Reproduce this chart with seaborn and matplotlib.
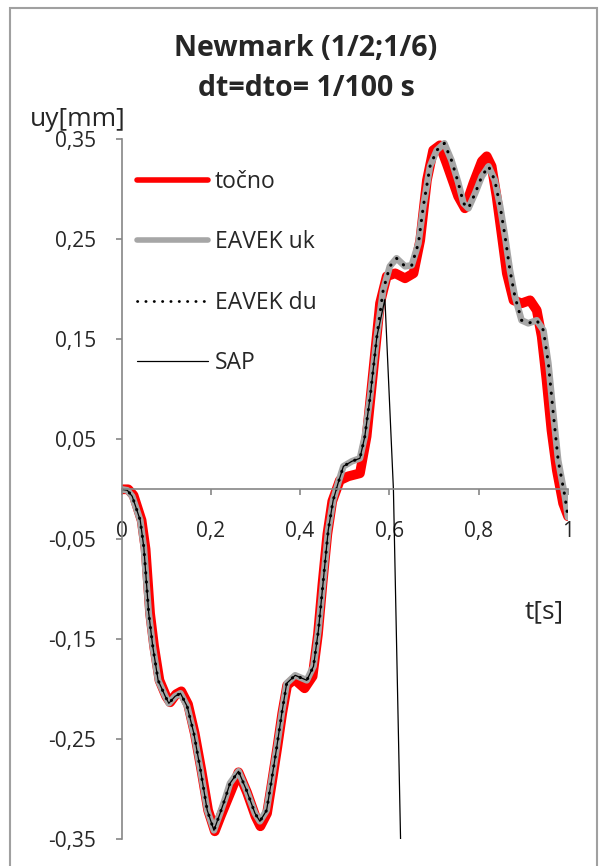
import numpy as np
import pandas as pd
import matplotlib
matplotlib.use('Agg')
import matplotlib.pyplot as plt
from matplotlib.lines import Line2D
from matplotlib.patches import Rectangle
import seaborn as sns

# točno (exact solution)
t_tocno = [0.000, 0.015, 0.027, 0.045, 0.054, 0.064, 0.073, 0.085, 0.100, 0.109,
           0.122, 0.134, 0.149, 0.164, 0.179, 0.194, 0.209, 0.222, 0.245, 0.262,
           0.281, 0.300, 0.311, 0.326, 0.337, 0.349, 0.360, 0.371, 0.387, 0.410,
           0.428, 0.440, 0.450, 0.461, 0.472, 0.489, 0.508, 0.534, 0.549, 0.564,
           0.579, 0.594, 0.613, 0.635, 0.654, 0.669, 0.684, 0.698, 0.713, 0.728,
           0.754, 0.769, 0.788, 0.807, 0.818, 0.829, 0.840, 0.852, 0.863, 0.878,
           0.896, 0.915, 0.930, 0.941, 0.952, 0.963, 0.975, 0.989, 1.000]
u_tocno = [0.000, 0.000, -0.006, -0.031, -0.060, -0.124, -0.157, -0.191, -0.207, -0.213,
           -0.205, -0.202, -0.215, -0.244, -0.281, -0.321, -0.342, -0.327, -0.302, -0.283,
           -0.303, -0.327, -0.337, -0.324, -0.293, -0.258, -0.224, -0.196, -0.190, -0.199,
           -0.187, -0.145, -0.095, -0.045, -0.012, 0.009, 0.013, 0.016, 0.053, 0.119,
           0.186, 0.213, 0.216, 0.211, 0.216, 0.249, 0.309, 0.339, 0.344, 0.326,
           0.293, 0.281, 0.306, 0.328, 0.333, 0.323, 0.293, 0.253, 0.216, 0.189,
           0.186, 0.189, 0.179, 0.153, 0.109, 0.059, 0.019, -0.014, -0.027]

# EAVEK (uk and du give the same curve)
t_eavek = [0.000, 0.013, 0.024, 0.042, 0.050, 0.061, 0.070, 0.082, 0.098, 0.106,
           0.120, 0.132, 0.147, 0.162, 0.177, 0.192, 0.207, 0.220, 0.233, 0.243,
           0.262, 0.280, 0.299, 0.310, 0.325, 0.336, 0.348, 0.359, 0.370, 0.389,
           0.415, 0.430, 0.441, 0.452, 0.463, 0.474, 0.485, 0.497, 0.516, 0.534,
           0.545, 0.557, 0.572, 0.586, 0.601, 0.616, 0.635, 0.650, 0.665, 0.676,
           0.691, 0.706, 0.723, 0.739, 0.754, 0.766, 0.777, 0.792, 0.807, 0.822,
           0.836, 0.848, 0.859, 0.870, 0.881, 0.896, 0.911, 0.930, 0.945, 0.956,
           0.967, 0.978, 0.993, 1.000]
u_eavek = [0.000, -0.001, -0.007, -0.031, -0.058, -0.124, -0.157, -0.191, -0.207, -0.214,
           -0.207, -0.204, -0.217, -0.244, -0.281, -0.321, -0.341, -0.325, -0.308, -0.294,
           -0.282, -0.301, -0.324, -0.332, -0.321, -0.291, -0.257, -0.224, -0.194, -0.186,
           -0.191, -0.177, -0.141, -0.091, -0.041, -0.011, 0.006, 0.023, 0.028, 0.031,
           0.053, 0.093, 0.153, 0.199, 0.223, 0.231, 0.223, 0.224, 0.246, 0.283,
           0.323, 0.339, 0.346, 0.329, 0.307, 0.286, 0.281, 0.296, 0.313, 0.323,
           0.309, 0.283, 0.253, 0.219, 0.193, 0.169, 0.166, 0.169, 0.159, 0.126,
           0.076, 0.029, -0.007, -0.028]

# SAP: same as EAVEK until ~0.59 s, then diverges
t_sap = t_eavek[:43] + [0.590, 0.609, 0.625, 0.627]
u_sap = u_eavek[:43] + [0.190, 0.000, -0.350, -0.400]

yticks = [0.35, 0.25, 0.15, 0.05, -0.05, -0.15, -0.25, -0.35]
ytick_labels = ['0,35', '0,25', '0,15', '0,05', '-0,05', '-0,15', '-0,25', '-0,35']
xticks = [0, 0.2, 0.4, 0.6, 0.8, 1]
xtick_labels = ['0', '0,2', '0,4', '0,6', '0,8', '1']

sns.set_style('white')
plt.rcParams['font.family'] = ['Open Sans', 'DejaVu Sans']
axis_gray = '#868686'
fs = 15

fig = plt.figure(figsize=(6.02, 8.66), dpi=100)
ax = fig.add_axes([121.5 / 602, 1 - 839.3 / 866, 446.5 / 602, 700 / 866])

sns.lineplot(x=t_tocno, y=u_tocno, ax=ax, color='#ff0000', lw=7.0, sort=False,
             estimator=None, legend=False, solid_joinstyle='round')
sns.lineplot(x=t_eavek, y=u_eavek, ax=ax, color='#a6a6a6', lw=4.8, sort=False,
             estimator=None, legend=False, solid_joinstyle='round')
sns.lineplot(x=t_eavek, y=u_eavek, ax=ax, color='black', lw=2.2, sort=False,
             estimator=None, legend=False, linestyle=(0, (0.1, 2.9)),
             dash_capstyle='round')
sns.lineplot(x=t_sap, y=u_sap, ax=ax, color='black', lw=0.9, sort=False,
             estimator=None, legend=False)

ax.set_xlim(0, 1)
ax.set_ylim(-0.35, 0.35)
ax.set_xlabel('')
ax.set_ylabel('')

for s in ['top', 'right']:
    ax.spines[s].set_visible(False)
ax.spines['bottom'].set_position(('data', 0))
for s in ['left', 'bottom']:
    ax.spines[s].set_color(axis_gray)
    ax.spines[s].set_linewidth(1.2)

ax.set_yticks(yticks)
ax.set_yticklabels(ytick_labels)
ax.set_xticks(xticks)
ax.set_xticklabels(xtick_labels)
ax.tick_params(axis='y', direction='out', length=4.5, width=1.2, color=axis_gray,
               labelsize=fs, pad=14, left=True)
ax.tick_params(axis='x', direction='out', length=4.5, width=1.2, color=axis_gray,
               labelsize=fs, pad=18, bottom=True)

# axis titles placed like the Excel chart
fig.text(78 / 602, 1 - 120 / 866, 'uy[mm]', ha='center', va='center', fontsize=19)
fig.text(544 / 602, 1 - 612 / 866, 't[s]', ha='center', va='center', fontsize=19)

fig.text(306 / 602, 1 - 48 / 866, 'Newmark (1/2;1/6)', ha='center', va='center',
         fontsize=20.5, fontweight='bold')
fig.text(306 / 602, 1 - 89 / 866, 'dt=dto= 1/100 s', ha='center', va='center',
         fontsize=20.5, fontweight='bold')

handles = [
    Line2D([], [], color='#ff0000', lw=4.0),
    Line2D([], [], color='#a6a6a6', lw=4.0),
    Line2D([], [], color='black', lw=2.0, linestyle=(0, (0.1, 2.9)), dash_capstyle='round'),
    Line2D([], [], color='black', lw=0.9),
]
labels = ['točno', 'EAVEK uk', 'EAVEK du', 'SAP']
ax.legend(handles, labels, loc='upper left', bbox_to_anchor=(137 / 602, 1 - 170 / 866),
          bbox_transform=fig.transFigure, frameon=False, fontsize=16.5,
          handlelength=3.1, handletextpad=0.3, labelspacing=1.59,
          borderpad=0, borderaxespad=0)

# chart area border
fig.patches.append(Rectangle((10 / 602, -0.01), 587 / 602, 1 - 8 / 866 + 0.01,
                             transform=fig.transFigure, fill=False,
                             edgecolor='#a0a0a0', lw=1.5))

fig.savefig('out.png', dpi=100)
